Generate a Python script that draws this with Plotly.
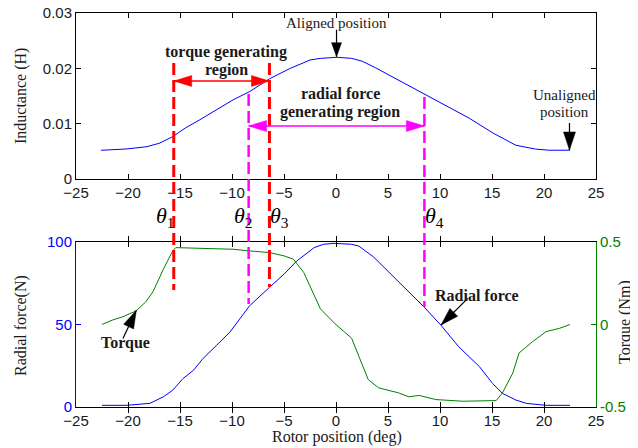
import math
import plotly.graph_objects as go

# ---------------- data ----------------
ind_pos = [-22.6, -20.2, -18.2, -17.0, -15.7, -14.5, -13.1, -11.5, -9.9, -8.3, -6.4, -4.4, -2.5, -1.5,
           0.1, 1.5, 2.5, 3.8, 5.1, 6.5, 8.0, 10.1, 12.8, 15.1, 17.3, 19.2, 20.5, 22.5]
inductance = [0.00519, 0.00542, 0.00584, 0.00645, 0.00765, 0.0092, 0.0107, 0.0125, 0.0143, 0.0158, 0.0181,
              0.0200, 0.0215, 0.0218, 0.0220, 0.0218, 0.0213, 0.0201, 0.0188, 0.0174, 0.0158, 0.0137,
              0.0110, 0.0083, 0.0061, 0.0054, 0.0052, 0.0052]

force_pos = [-22.5, -20.2, -17.9, -16.6, -15.7, -14.7, -13.7, -12.8, -11.5, -10.2, -8.9, -8.3, -6.4,
             -5.0, -3.75, -2.1, -1.2, -0.2, 1.5, 2.2, 3.6, 5.07, 6.7, 8.5, 10.07, 11.8, 13.8, 15.05,
             16.0, 17.3, 18.3, 20.2, 22.5]
radial_force = [1.0, 1.0, 2.2, 6.2, 10.2, 17.3, 22.3, 29.3, 37.3, 45.4, 56.4, 61.4, 72.5, 80.5, 88.6,
                96.6, 98.6, 99.2, 98.6, 97.5, 91.0, 82.0, 71.9, 60.4, 49.7, 36.5, 24.4, 14.3, 8.3, 4.2,
                2.2, 1.0, 1.0]

torque_pos = [-22.5, -21.5, -20.5, -19.2, -18.3, -17.6, -16.6, -15.7, -15.4, -12.2, -9.9, -8.3, -6.4,
              -5.0, -4.1, -3.1, -2.2, -1.5, -0.1, 1.5, 2.5, 3.1, 4.1, 6.0, 7.0, 8.0, 9.6, 12.2, 15.4,
              16.0, 17.0, 17.6, 18.9, 20.2, 21.5, 22.5]
torque = [0.0, 0.027, 0.047, 0.083, 0.137, 0.198, 0.335, 0.446, 0.466, 0.462, 0.456, 0.446, 0.436,
          0.416, 0.396, 0.315, 0.195, 0.095, 0.005, -0.083, -0.24, -0.334, -0.384, -0.414, -0.438,
          -0.43, -0.455, -0.465, -0.461, -0.415, -0.294, -0.173, -0.104, -0.043, -0.023, 0.0]

theta_pos = [-15.6, -8.4, -6.4, 8.5]          # theta1..theta4
theta_names = ["1", "2", "3", "4"]

x_ticks = [-25, -20, -15, -10, -5, 0, 5, 10, 15, 20, 25]
ind_ticks = [0, 0.01, 0.02, 0.03]
ind_ticktext = ["0", "0.01", "0.02", "0.03"]
force_ticks = [0, 50, 100]
torque_ticks = [-0.5, 0, 0.5]
torque_ticktext = ["-0.5", "0", "0.5"]

# ---------------- layout geometry (page pixels) ----------------
OFF = 8                      # default body margin of the html page
PAGE_W, PAGE_H = 638, 448
W, H = PAGE_W - OFF, PAGE_H - OFF
L, R, T, B = 76, 596, 13, 407   # plot area in page pixels
PW, PH = R - L, B - T


def px(p):
    return (p - L) / PW


def py(p):
    return (B - p) / PH


SERIF = "Liberation Serif, Times New Roman, serif"
SANS = "Liberation Sans, Arial, sans-serif"
BLUE = "#0000ff"
GREEN = "#008000"
RED = "#ff0000"
MAG = "#ff00ff"
TXT = "#1a1a1a"

fig = go.Figure()
fig.add_trace(go.Scatter(x=ind_pos, y=inductance, mode="lines", line=dict(color=BLUE, width=1),
                         xaxis="x", yaxis="y", hoverinfo="skip"))
fig.add_trace(go.Scatter(x=force_pos, y=radial_force, mode="lines", line=dict(color=BLUE, width=1),
                         xaxis="x2", yaxis="y2", hoverinfo="skip"))
fig.add_trace(go.Scatter(x=torque_pos, y=torque, mode="lines", line=dict(color=GREEN, width=1),
                         xaxis="x2", yaxis="y3", hoverinfo="skip"))

top_dom = [py(179), 1.0]
bot_dom = [0.0, py(242)]

xcommon = dict(range=[-25, 25], tickvals=x_ticks, ticks="inside", ticklen=5, tickcolor="black",
               showline=True, linecolor="black", linewidth=1, mirror="allticks", showgrid=False,
               zeroline=False, automargin=False, ticklabeloverflow="allow",
               tickfont=dict(family=SANS, size=15, color=TXT), domain=[0, 1])
ycommon = dict(ticks="inside", ticklen=5, showline=True, showgrid=False, zeroline=False,
               automargin=False, ticklabeloverflow="allow")

fig.update_layout(
    width=W, height=H,
    margin=dict(l=L - OFF, r=PAGE_W - R, t=T - OFF, b=PAGE_H - B, pad=0, autoexpand=False),
    paper_bgcolor="white", plot_bgcolor="white",
    showlegend=False, hovermode=False,
    xaxis=dict(anchor="y", **xcommon),
    xaxis2=dict(anchor="y2", **xcommon),
    yaxis=dict(domain=top_dom, anchor="x", range=[0, 0.03], tickvals=ind_ticks, ticktext=ind_ticktext,
               tickcolor="black", linecolor="black", mirror="allticks",
               tickfont=dict(family=SANS, size=15, color=TXT), **ycommon),
    yaxis2=dict(domain=bot_dom, anchor="x2", range=[0, 100], tickvals=force_ticks,
                tickcolor=BLUE, linecolor=BLUE, mirror=False,
                tickfont=dict(family=SANS, size=15, color=BLUE), **ycommon),
    yaxis3=dict(domain=bot_dom, anchor="x2", overlaying="y2", side="right", range=[-0.5, 0.5],
                tickvals=torque_ticks, ticktext=torque_ticktext, tickcolor=GREEN, linecolor=GREEN,
                tickfont=dict(family=SANS, size=15, color=GREEN), **ycommon),
)

shapes = []
ann = []

# dashed theta lines spanning both panels
theta_style = [(RED, 3, 63, 290), (MAG, 2.5, 94, 304), (RED, 3, 63, 287), (MAG, 2.5, 97, 307)]
for xv, (col, wd, ytop, ybot) in zip(theta_pos, theta_style):
    shapes.append(dict(type="line", xref="x", yref="paper", x0=xv, x1=xv, y0=py(ytop), y1=py(ybot),
                       line=dict(color=col, width=wd, dash="12px,5px"), layer="above"))


def head(x, y, xref, yref, dx, dy, color, length=18, width=11):
    n = math.hypot(dx, dy)
    ux, uy = dx / n, dy / n
    bx, by = -ux * length, -uy * length
    qx, qy = -uy, ux
    p1 = (bx + qx * width / 2, by + qy * width / 2)
    p2 = (bx - qx * width / 2, by - qy * width / 2)
    path = f"M0,0 L{p1[0]:.2f},{-p1[1]:.2f} L{p2[0]:.2f},{-p2[1]:.2f} Z"
    return dict(type="path", xref=xref, yref=yref, xsizemode="pixel", ysizemode="pixel",
                xanchor=x, yanchor=y, path=path, fillcolor=color,
                line=dict(color=color, width=0.5), layer="above")


def shaft(x, y, xref, yref, dx, dy, color, width=1.2):
    # from anchor (tip) back to the tail at screen offset (dx, dy)
    return dict(type="line", xref=xref, yref=yref, xsizemode="pixel", ysizemode="pixel",
                xanchor=x, yanchor=y, x0=0, y0=0, x1=dx, y1=-dy,
                line=dict(color=color, width=width), layer="above")


# torque generating region double arrow (theta1 -> theta3)
y_red = (179 - 81) / (179 - T) * 0.03
shapes.append(dict(type="line", xref="x", yref="y", x0=theta_pos[0], x1=theta_pos[2], y0=y_red, y1=y_red,
                   line=dict(color=RED, width=1.5), layer="above"))
shapes.append(head(theta_pos[0], y_red, "x", "y", -1, 0, RED))
shapes.append(head(theta_pos[2], y_red, "x", "y", 1, 0, RED))

# radial force generating region double arrow (theta2 -> theta4)
y_mag = (179 - 126) / (179 - T) * 0.03
shapes.append(dict(type="line", xref="x", yref="y", x0=theta_pos[1], x1=theta_pos[3], y0=y_mag, y1=y_mag,
                   line=dict(color=MAG, width=1.5), layer="above"))
shapes.append(head(theta_pos[1], y_mag, "x", "y", -1, 0, MAG))
shapes.append(head(theta_pos[3], y_mag, "x", "y", 1, 0, MAG))

# aligned position arrow
shapes.append(shaft(0.05, 0.0221, "x", "y", 0, -27, "black"))
shapes.append(head(0.05, 0.0221, "x", "y", 0, 1, "black", length=14, width=10))
# unaligned position arrow
shapes.append(shaft(22.45, 0.00524, "x", "y", 0, -27, "black"))
shapes.append(head(22.45, 0.00524, "x", "y", 0, 1, "black", length=18, width=12))
# torque arrow
shapes.append(shaft(-19.2, 0.086, "x2", "y3", -13.4, 28.3, "black"))
shapes.append(head(-19.2, 0.086, "x2", "y3", 13.4, -28.3, "black", length=18, width=11))
# radial force arrow
shapes.append(shaft(10.1, 49.7, "x2", "y2", 26.7, -26.7, "black"))
shapes.append(head(10.1, 49.7, "x2", "y2", -26.7, 26.7, "black", length=18, width=11))


def text(t, xp, yp, size=16, bold=False, family=SERIF, color=TXT, angle=0, xanchor="center"):
    if bold:
        t = f"<b>{t}</b>"
    ann.append(dict(text=t, x=px(xp), y=py(yp), xref="paper", yref="paper", showarrow=False,
                    xanchor=xanchor, yanchor="middle", textangle=angle,
                    font=dict(family=family, size=size, color=color)))


text("Aligned position", 336, 23, size=15)
text("torque generating", 226, 52, bold=True)
text("region", 226, 70, bold=True)
text("radial force", 340, 93, bold=True)
text("generating region", 340, 112, bold=True)
text("Unaligned", 564, 95, size=15)
text("position", 564, 112, size=15)
text("Torque", 125, 343, bold=True)
text("Radial force", 477, 295, bold=True)

text("Inductance (H)", 21, 96, angle=-90)
text("Radial force(N)", 21, 326, angle=-90)
text("Torque (Nm)", 625, 322, angle=-90)
text("Rotor position (deg)", 337, 437)

theta_left = [156, 234, 270, 425]
for xl, nm in zip(theta_left, theta_names):
    text(f"<i>θ</i><sub>{nm}</sub>", xl - 2, 217, size=22, xanchor="left", color="black")

fig.update_layout(shapes=shapes, annotations=ann)
fig.write_html("out.html")
